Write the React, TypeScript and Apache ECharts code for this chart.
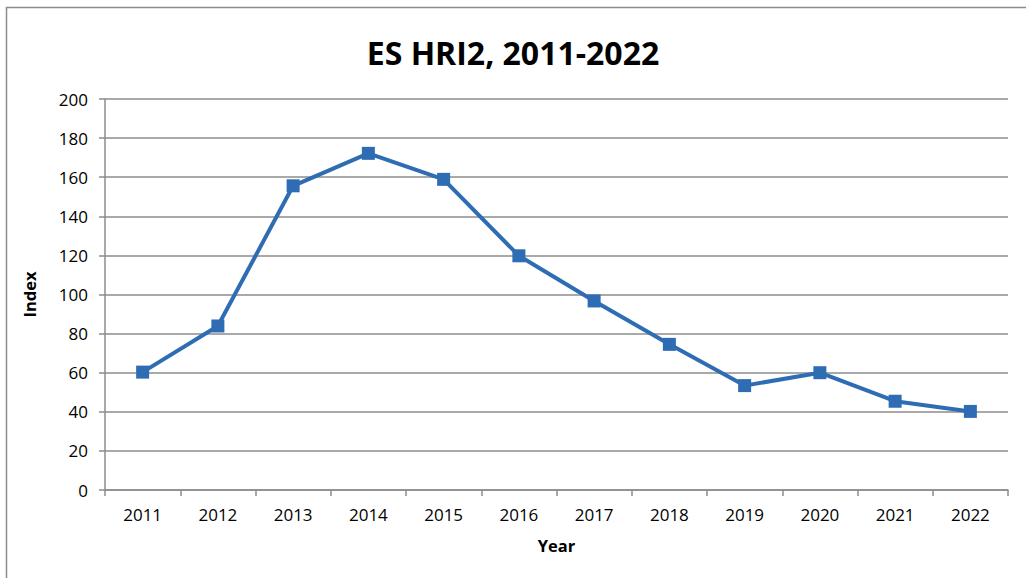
import React, { useEffect, useRef } from "react";
import * as echarts from "echarts";

const years = ["2011", "2012", "2013", "2014", "2015", "2016", "2017", "2018", "2019", "2020", "2021", "2022"];
const hri2 = [60.3, 83.9, 155.6, 172.2, 158.9, 119.8, 96.7, 74.5, 53.4, 60.0, 45.4, 40.2];
const titleText = "ES HRI2, 2011-2022";
const xName = "Year";
const yName = "Index";

export default function App() {
  const ref = useRef<HTMLDivElement>(null);
  useEffect(() => {
    document.body.style.margin = "0";
    const chart = echarts.init(ref.current!, null, { renderer: "svg" });
    const font = "'Open Sans', 'Noto Sans', sans-serif";
    chart.setOption({
      animation: false,
      backgroundColor: "#ffffff",
      title: {
        text: titleText,
        left: "center",
        top: 31,
        textStyle: { fontFamily: font, fontSize: 32, fontWeight: "bold", color: "#000" },
      },
      graphic: [
        {
          type: "rect",
          shape: { x: 6.5, y: 7.5, width: 1100, height: 700 },
          style: { fill: "none", stroke: "#8c8c8c", lineWidth: 1.5 },
          silent: true,
        },
      ],
      grid: { left: 105, right: 18, top: 99, bottom: 88 },
      xAxis: {
        type: "category",
        data: years,
        boundaryGap: true,
        name: xName,
        nameLocation: "middle",
        nameGap: 47,
        nameTextStyle: { fontFamily: font, fontSize: 16.5, fontWeight: "bold", color: "#000" },
        axisLine: { lineStyle: { color: "#8c8c8c", width: 1.5 } },
        axisTick: { show: true, alignWithLabel: false, length: 6, lineStyle: { color: "#8c8c8c", width: 1.5 } },
        axisLabel: { fontFamily: font, fontSize: 17, color: "#000", margin: 16 },
        splitLine: { show: false },
      },
      yAxis: {
        type: "value",
        min: 0,
        max: 200,
        interval: 20,
        name: yName,
        nameLocation: "middle",
        nameGap: 67,
        nameRotate: 90,
        nameTextStyle: { fontFamily: font, fontSize: 16.5, fontWeight: "bold", color: "#000" },
        axisLine: { show: true, lineStyle: { color: "#8c8c8c", width: 1.5 } },
        axisTick: { show: true, length: 6, lineStyle: { color: "#8c8c8c", width: 1.5 } },
        axisLabel: { fontFamily: font, fontSize: 17, color: "#000", margin: 17 },
        splitLine: { show: true, lineStyle: { color: "#8c8c8c", width: 1.5 } },
      },
      series: [
        {
          type: "line",
          data: hri2,
          symbol: "rect",
          symbolSize: 13,
          lineStyle: { color: "#2E6DB4", width: 4 },
          itemStyle: { color: "#2E6DB4" },
        },
      ],
    });
    return () => chart.dispose();
  }, []);
  return <div ref={ref} style={{ width: 1026, height: 578, position: "absolute", left: 0, top: 0 }} />;
}
